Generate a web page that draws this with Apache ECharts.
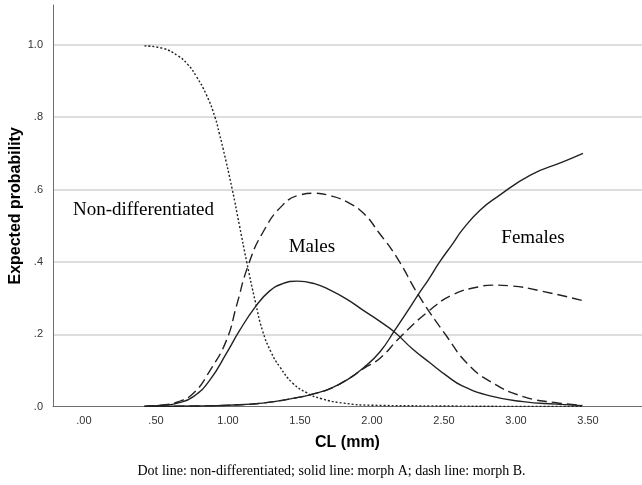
<!DOCTYPE html>
<html>
<head>
<meta charset="utf-8">
<script src="https://cdn.jsdelivr.net/npm/echarts@6/dist/echarts.min.js"></script>
<style>
html,body{margin:0;padding:0;background:#fff;}
#chart{width:642px;height:485px;}
</style>
</head>
<body>
<div id="chart"></div>
<script>
// ---- data ----
const xTickValues = [0, 0.5, 1, 1.5, 2, 2.5, 3, 3.5];
const xTickLabels = ['.00', '.50', '1.00', '1.50', '2.00', '2.50', '3.00', '3.50'];
const yTickValues = [0, 0.2, 0.4, 0.6, 0.8, 1.0];
const yTickLabels = ['.0', '.2', '.4', '.6', '.8', '1.0'];

// Non-differentiated (dotted)
const nonDiffX = [0.42, 0.55, 0.65, 0.72, 0.78, 0.85, 0.91, 0.94, 0.965, 1.03, 1.08, 1.13, 1.19, 1.24, 1.30, 1.36, 1.45, 1.55, 1.65, 1.80, 2.00, 2.50, 3.00, 3.46];
const nonDiffY = [0.997, 0.99, 0.97, 0.946, 0.913, 0.862, 0.80, 0.755, 0.715, 0.60, 0.50, 0.40, 0.29, 0.21, 0.15, 0.11, 0.065, 0.038, 0.022, 0.01, 0.004, 0.002, 0.001, 0.001];

// Males, morph A (solid)
const maleAX = [0.42, 0.55, 0.65, 0.76, 0.875, 0.99, 1.08, 1.19, 1.29, 1.38, 1.48, 1.60, 1.71, 1.83, 1.94, 2.05, 2.16, 2.28, 2.40, 2.52, 2.63, 2.82, 3.05, 3.28, 3.46];
const maleAY = [0.001, 0.004, 0.01, 0.028, 0.074, 0.148, 0.21, 0.276, 0.32, 0.34, 0.347, 0.34, 0.322, 0.296, 0.266, 0.237, 0.205, 0.16, 0.122, 0.085, 0.057, 0.03, 0.014, 0.007, 0.003];

// Males, morph B (dashed)
const maleBX = [0.42, 0.55, 0.65, 0.76, 0.875, 0.99, 1.06, 1.14, 1.24, 1.38, 1.50, 1.60, 1.71, 1.83, 1.94, 2.05, 2.17, 2.33, 2.52, 2.66, 2.82, 3.05, 3.28, 3.46];
const maleBY = [0.001, 0.005, 0.013, 0.037, 0.10, 0.184, 0.28, 0.39, 0.48, 0.557, 0.585, 0.59, 0.583, 0.565, 0.535, 0.48, 0.414, 0.304, 0.194, 0.12, 0.07, 0.028, 0.011, 0.004];

// Females, morph A (solid)
const femaleAX = [0.42, 0.8, 1.0, 1.24, 1.48, 1.60, 1.71, 1.83, 1.94, 2.056, 2.16, 2.24, 2.32, 2.39, 2.47, 2.56, 2.63, 2.75, 2.87, 3.10, 3.33, 3.465];
const femaleAY = [0.001, 0.002, 0.004, 0.01, 0.025, 0.036, 0.05, 0.075, 0.107, 0.152, 0.212, 0.26, 0.309, 0.35, 0.40, 0.45, 0.49, 0.543, 0.58, 0.64, 0.677, 0.70];

// Females, morph B (dashed)
const femaleBX = [0.42, 0.8, 1.0, 1.24, 1.48, 1.60, 1.71, 1.83, 1.94, 2.056, 2.19, 2.39, 2.56, 2.75, 2.84, 2.96, 3.17, 3.465];
const femaleBY = [0.001, 0.002, 0.004, 0.01, 0.025, 0.036, 0.05, 0.075, 0.105, 0.134, 0.19, 0.263, 0.309, 0.332, 0.336, 0.334, 0.32, 0.293];

// Annotations (data coordinates)
const annotationTexts = ['Non-differentiated', 'Males', 'Females'];
const annotationX = [0.413, 1.583, 3.118];
const annotationY = [0.544, 0.4415, 0.4664];

const xTitle = 'CL (mm)';
const yTitle = 'Expected probability';
const caption = 'Dot line: non-differentiated; solid line: morph A; dash line: morph B.';

// ---- chart ----
function zip(xs, ys) { return xs.map((x, i) => [x, ys[i]]); }
function labelFor(values, labels, v) {
  for (let i = 0; i < values.length; i++) {
    if (Math.abs(values[i] - v) < 1e-6) return labels[i];
  }
  return '';
}

const lineColor = '#222';
function lineSeries(name, xs, ys, type) {
  return {
    name: name,
    type: 'line',
    data: zip(xs, ys),
    showSymbol: false,
    symbol: 'none',
    smooth: 0.5,
    lineStyle: { color: lineColor, width: 1.4, type: type },
    silent: true,
    z: 3
  };
}

const chart = echarts.init(document.getElementById('chart'), null, { renderer: 'canvas' });
const option = {
  animation: false,
  backgroundColor: '#ffffff',
  grid: { left: 53, right: 0, top: 5, bottom: 78.3, containLabel: false, outerBoundsMode: 'none' },
  xAxis: {
    type: 'value',
    min: -0.215,
    max: 3.875,
    minInterval: 0.5,
    maxInterval: 0.5,
    name: xTitle,
    nameLocation: 'middle',
    nameGap: 28,
    nameMoveOverlap: false,
    nameTextStyle: { fontFamily: 'Liberation Sans', fontWeight: 'bold', fontSize: 16, color: '#000' },
    axisLine: { show: true, onZero: false, lineStyle: { color: '#6e6e6e', width: 1 } },
    axisTick: { show: false },
    splitLine: { show: false },
    axisLabel: {
      showMinLabel: false,
      showMaxLabel: false,
      margin: 9,
      fontFamily: 'Liberation Sans',
      fontSize: 11,
      color: '#333',
      formatter: v => labelFor(xTickValues, xTickLabels, v)
    }
  },
  yAxis: {
    type: 'value',
    min: 0,
    max: 1.11,
    interval: 0.2,
    name: yTitle,
    nameLocation: 'middle',
    nameGap: 29,
    nameMoveOverlap: false,
    nameRotate: 90,
    nameTextStyle: { fontFamily: 'Liberation Sans', fontWeight: 'bold', fontSize: 16, color: '#000' },
    axisLine: { show: true, onZero: false, lineStyle: { color: '#6e6e6e', width: 1 } },
    axisTick: { show: false },
    splitLine: { show: true, showMinLine: false, showMaxLine: false, lineStyle: { color: '#d2d2d2', width: 1.5 } },
    axisLabel: {
      showMaxLabel: false,
      margin: 10,
      fontFamily: 'Liberation Sans',
      fontSize: 11,
      color: '#333',
      formatter: v => labelFor(yTickValues, yTickLabels, v)
    }
  },
  series: [
    lineSeries('Non-differentiated', nonDiffX, nonDiffY, [2, 2]),
    lineSeries('Males morph A', maleAX, maleAY, 'solid'),
    lineSeries('Males morph B', maleBX, maleBY, [10, 5]),
    lineSeries('Females morph A', femaleAX, femaleAY, 'solid'),
    lineSeries('Females morph B', femaleBX, femaleBY, [10, 5])
  ]
};
chart.setOption(option);

const graphics = annotationTexts.map((t, i) => {
  const p = chart.convertToPixel({ gridIndex: 0 }, [annotationX[i], annotationY[i]]);
  return {
    type: 'text',
    x: p[0], y: p[1],
    style: {
      text: t,
      fontFamily: 'Liberation Serif',
      fontSize: 19,
      fill: '#000',
      textAlign: 'center',
      textVerticalAlign: 'middle'
    },
    z: 10
  };
});
graphics.push({
  type: 'text',
  x: 331.5, y: 471,
  style: {
    text: caption,
    fontFamily: 'Liberation Serif',
    fontSize: 14,
    fill: '#000',
    textAlign: 'center',
    textVerticalAlign: 'middle'
  },
  z: 10
});
chart.setOption({ graphic: graphics });
</script>
</body>
</html>
